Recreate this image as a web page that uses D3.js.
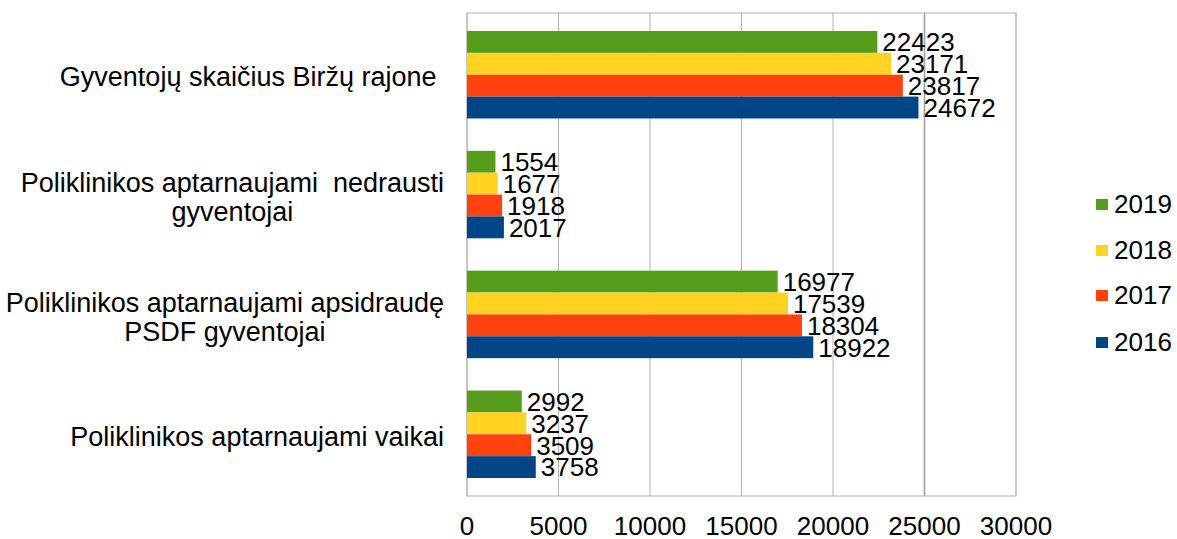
<!DOCTYPE html>
<html>
<head>
<meta charset="utf-8">
<script src="https://cdn.jsdelivr.net/npm/d3@7"></script>
<style>
  body { margin: 0; background: #fff; }
  text { font-family: 'Liberation Sans', Arial, sans-serif; fill: #000; white-space: pre; }
</style>
</head>
<body>
<div id="graph"></div>
<script>
// chart values

var categories = [
  ['Gyventojų skaičius Biržų rajone '],
  ['Poliklinikos aptarnaujami  nedrausti', 'gyventojai'],
  ['Poliklinikos aptarnaujami apsidraudę', 'PSDF gyventojai'],
  ['Poliklinikos aptarnaujami vaikai']
];
var years = ['2019', '2018', '2017', '2016'];
var v2019 = [22423, 1554, 16977, 2992];
var v2018 = [23171, 1677, 17539, 3237];
var v2017 = [23817, 1918, 18304, 3509];
var v2016 = [24672, 2017, 18922, 3758];
var xTicks = [0, 5000, 10000, 15000, 20000, 25000, 30000];
var colors = ['#579d1c', '#ffd320', '#ff420e', '#004586'];

var series = [v2019, v2018, v2017, v2016];

var w = 1177, h = 539;
// plot area (top/bottom can't be called "top", window.top is taken)
var plotL = 467, plotR = 1016, plotT = 13, plotB = 496;
var fs = 26;
var catFs = 27;

var svg = d3.select('#graph').append('svg')
  .attr('width', w)
  .attr('height', h);

var xscale = d3.scaleLinear().domain([0, 30000]).range([plotL, plotR]);

var yscale = d3.scaleBand()
  .domain(d3.range(categories.length))
  .range([plotT, plotB])
  .paddingInner(0.27)
  .paddingOuter(0.15);

var yinner = d3.scaleBand()
  .domain(years)
  .range([0, yscale.bandwidth()]);

// grid lines
svg.append('g').selectAll('line')
  .data(xTicks)
  .enter()
  .append('line')
  .attr('x1', function(d) { return xscale(d); })
  .attr('x2', function(d) { return xscale(d); })
  .attr('y1', plotT)
  .attr('y2', plotB)
  .attr('stroke', function(d) { return d === 25000 ? '#a0a0a0' : '#b3b3b3'; })
  .attr('stroke-width', function(d) { return d === 25000 ? 1.6 : 1; });

svg.append('rect')
  .attr('x', plotL)
  .attr('y', plotT)
  .attr('width', plotR - plotL)
  .attr('height', plotB - plotT)
  .attr('fill', 'none')
  .attr('stroke', '#b3b3b3');

// bars, one group per category
var groups = svg.selectAll('.grp')
  .data(categories)
  .enter()
  .append('g')
  .attr('class', 'grp')
  .attr('transform', function(d, i) { return 'translate(0,' + yscale(i) + ')'; });

groups.each(function(cat, ci) {
  var g = d3.select(this);
  var rows = years.map(function(y, si) {
    return { year: y, value: series[si][ci], color: colors[si] };
  });

  g.selectAll('rect')
    .data(rows)
    .enter()
    .append('rect')
    .attr('x', xscale(0))
    .attr('y', function(d) { return yinner(d.year); })
    .attr('width', function(d) { return xscale(d.value) - xscale(0); })
    .attr('height', yinner.bandwidth())
    .attr('fill', function(d) { return d.color; });

  g.selectAll('text.val')
    .data(rows)
    .enter()
    .append('text')
    .attr('class', 'val')
    .attr('x', function(d) { return xscale(d.value) + 5; })
    .attr('y', function(d) { return yinner(d.year) + yinner.bandwidth() / 2 + fs * 0.36; })
    .attr('font-size', fs)
    .text(function(d) { return d.value; });
});

// category labels, lines centred in a block that is right aligned
var lineH = 29;
categories.forEach(function(lines, ci) {
  var t = svg.append('text').attr('font-size', catFs).attr('text-anchor', 'middle');
  var cy = yscale(ci) + yscale.bandwidth() / 2 + 2;
  lines.forEach(function(line, li) {
    t.append('tspan')
      .attr('y', cy + catFs * 0.36 + (li - (lines.length - 1) / 2) * lineH)
      .text(line);
  });
  var maxW = 0;
  t.selectAll('tspan').each(function() {
    maxW = Math.max(maxW, this.getComputedTextLength());
  });
  t.selectAll('tspan').attr('x', 444 - maxW / 2);
});

// x axis labels
svg.append('g').selectAll('text')
  .data(xTicks)
  .enter()
  .append('text')
  .attr('x', function(d) { return xscale(d); })
  .attr('y', 535)
  .attr('text-anchor', 'middle')
  .attr('font-size', fs)
  .text(function(d) { return d; });

// legend
var legendY = [204, 250, 295, 342];
var legend = svg.append('g').attr('id', 'legend');
legend.selectAll('rect')
  .data(years)
  .enter()
  .append('rect')
  .attr('x', 1096)
  .attr('y', function(d, i) { return legendY[i] - 5; })
  .attr('width', 12)
  .attr('height', 11)
  .attr('fill', function(d, i) { return colors[i]; });
legend.selectAll('text')
  .data(years)
  .enter()
  .append('text')
  .attr('x', 1114)
  .attr('y', function(d, i) { return legendY[i] + fs * 0.36; })
  .attr('font-size', fs)
  .text(function(d) { return d; });
</script>
</body>
</html>
